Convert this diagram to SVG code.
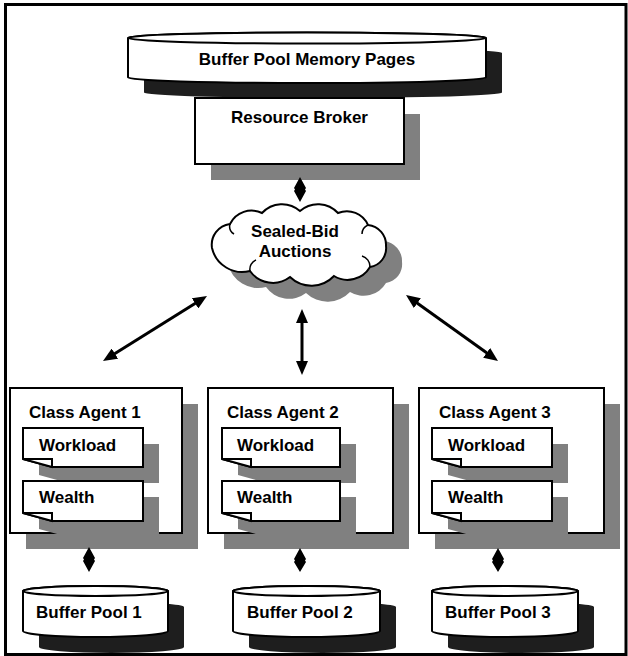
<svg xmlns="http://www.w3.org/2000/svg" width="628" height="656" viewBox="0 0 628 656">
<defs>
<style>
.t{font-family:"Liberation Sans",Arial,sans-serif;font-weight:bold;font-size:17px;fill:#000}
.m{text-anchor:middle}
.w{fill:#fff;stroke:#000;stroke-width:2;stroke-linejoin:miter}
.sg{fill:#808080}
.sd{fill:#1e1e1e}
.ln{stroke:#000;stroke-width:3;fill:none}
.dm{fill:#000}
</style>
<marker id="ah" viewBox="0 0 14 12" refX="6" refY="6" markerWidth="14" markerHeight="12" markerUnits="userSpaceOnUse" orient="auto-start-reverse">
<path d="M0,0 L14,6 L0,12 Z" fill="#000"/>
</marker>
<path id="cloud" d="M212,248 A21,21 0 0 1 230,224 A24,24 0 0 1 262,213 A27,27 0 0 1 300,211 A27,27 0 0 1 338,213 A23,23 0 0 1 368,225 A20,20 0 0 1 386,246 A19,19 0 0 1 370,267 A26,26 0 0 1 334,276 A31,31 0 0 1 290,277 A28,28 0 0 1 250,271 A31,31 0 0 1 212,248 Z"/>
</defs>
<rect x="0" y="0" width="628" height="656" fill="#fff"/>
<rect x="5.5" y="4.5" width="620.5" height="650" fill="none" stroke="#000" stroke-width="3"/>

<g id="memory-pages">
<path class="sd" d="M144,53 L144,92.5 A179,5.5 0 0 0 502,92.5 L502,53 A179,5.5 0 0 0 144,53 Z"/>
<path class="w" d="M128,38 L128,77.5 A179,5.5 0 0 0 486,77.5 L486,38 A179,5.5 0 0 0 128,38 Z"/>
<ellipse class="w" cx="307" cy="38" rx="179" ry="5.5"/>
<text class="t m" x="307" y="65">Buffer Pool Memory Pages</text>
</g>

<g id="resource-broker">
<rect class="sg" x="211" y="114" width="209" height="66"/>
<rect class="w" x="195" y="98" width="209" height="66"/>
<text class="t m" x="299.5" y="123">Resource Broker</text>
</g>

<g id="auctions">
<use href="#cloud" class="sg" transform="translate(16,16)"/>
<use href="#cloud" class="w"/>
<path d="M370,267 A11,11 0 0 0 362,256 M250,271 A10,10 0 0 1 256,260 M368,225 A10,10 0 0 0 362,234 M230,224 A9,9 0 0 0 234,234" fill="none" stroke="#000" stroke-width="1.5"/>
<text class="t m" x="295" y="237">Sealed-Bid</text>
<text class="t m" x="295" y="257">Auctions</text>
</g>

<g id="agent1">
<rect class="sg" x="26" y="404" width="172" height="145"/>
<rect class="w" x="10" y="388" width="172" height="145"/>
<text class="t" x="29" y="418">Class Agent 1</text>
<polygon class="sg" points="39,444 159,444 159,483 68,483 39,475"/>
<polygon class="w" points="23,428 143,428 143,467 52,467 23,459"/>
<polygon class="w" points="23,459 52,459 52,467"/>
<text class="t" x="39" y="451">Workload</text>
<polygon class="sg" points="39,497 159,497 159,537 68,537 39,529"/>
<polygon class="w" points="23,481 143,481 143,521 52,521 23,513"/>
<polygon class="w" points="23,513 52,513 52,521"/>
<text class="t" x="39" y="503">Wealth</text>
</g>

<g id="agent2">
<rect class="sg" x="224" y="404" width="185" height="145"/>
<rect class="w" x="208" y="388" width="185" height="145"/>
<text class="t" x="227" y="418">Class Agent 2</text>
<polygon class="sg" points="238,444 356,444 356,483 267,483 238,475"/>
<polygon class="w" points="222,428 340,428 340,467 251,467 222,459"/>
<polygon class="w" points="222,459 251,459 251,467"/>
<text class="t" x="237" y="451">Workload</text>
<polygon class="sg" points="238,497 356,497 356,537 267,537 238,529"/>
<polygon class="w" points="222,481 340,481 340,521 251,521 222,513"/>
<polygon class="w" points="222,513 251,513 251,521"/>
<text class="t" x="237" y="503">Wealth</text>
</g>

<g id="agent3">
<rect class="sg" x="435" y="404" width="185" height="145"/>
<rect class="w" x="419" y="388" width="185" height="145"/>
<text class="t" x="439" y="418">Class Agent 3</text>
<polygon class="sg" points="448,444 568,444 568,483 477,483 448,475"/>
<polygon class="w" points="432,428 552,428 552,467 461,467 432,459"/>
<polygon class="w" points="432,459 461,459 461,467"/>
<text class="t" x="448" y="451">Workload</text>
<polygon class="sg" points="448,497 568,497 568,537 477,537 448,529"/>
<polygon class="w" points="432,481 552,481 552,521 461,521 432,513"/>
<polygon class="w" points="432,513 461,513 461,521"/>
<text class="t" x="448" y="503">Wealth</text>
</g>

<g id="pool1">
<path class="sd" d="M39,607 L39,647 A72.5,6 0 0 0 184,647 L184,607 A72.5,5 0 0 0 39,607 Z"/>
<path class="w" d="M23,591 L23,631 A72.5,6 0 0 0 168,631 L168,591 A72.5,5 0 0 0 23,591 Z"/>
<ellipse class="w" cx="95.5" cy="591" rx="72.5" ry="5"/>
<text class="t" x="36" y="618">Buffer Pool 1</text>
</g>

<g id="pool2">
<path class="sd" d="M249,607 L249,647 A73.5,6 0 0 0 396,647 L396,607 A73.5,5 0 0 0 249,607 Z"/>
<path class="w" d="M233,591 L233,631 A73.5,6 0 0 0 380,631 L380,591 A73.5,5 0 0 0 233,591 Z"/>
<ellipse class="w" cx="306.5" cy="591" rx="73.5" ry="5"/>
<text class="t" x="247" y="618">Buffer Pool 2</text>
</g>

<g id="pool3">
<path class="sd" d="M448,607 L448,647 A73,6 0 0 0 594,647 L594,607 A73,5 0 0 0 448,607 Z"/>
<path class="w" d="M432,591 L432,631 A73,6 0 0 0 578,631 L578,591 A73,5 0 0 0 432,591 Z"/>
<ellipse class="w" cx="505" cy="591" rx="73" ry="5"/>
<text class="t" x="445" y="618">Buffer Pool 3</text>
</g>

<g id="connectors">
<polygon class="dm" points="300,177 306,188 305,189.5 306,191 300,202 294,191 295,189.5 294,188"/>
<path class="ln" d="M200.2,300.2 L109.8,356.8" marker-start="url(#ah)" marker-end="url(#ah)"/>
<path class="ln" d="M302,317 L302,367" marker-start="url(#ah)" marker-end="url(#ah)"/>
<path class="ln" d="M412.5,299.7 L491.5,356.3" marker-start="url(#ah)" marker-end="url(#ah)"/>
<polygon class="dm" points="89,547 95,558 94,559.5 95,561 89,572 83,561 84,559.5 83,558"/>
<polygon class="dm" points="300,548 306,559 305,560.5 306,562 300,572 294,562 295,560.5 294,559"/>
<polygon class="dm" points="498,548 504,559 503,560.5 504,562 498,572 492,562 493,560.5 492,559"/>
</g>
</svg>
